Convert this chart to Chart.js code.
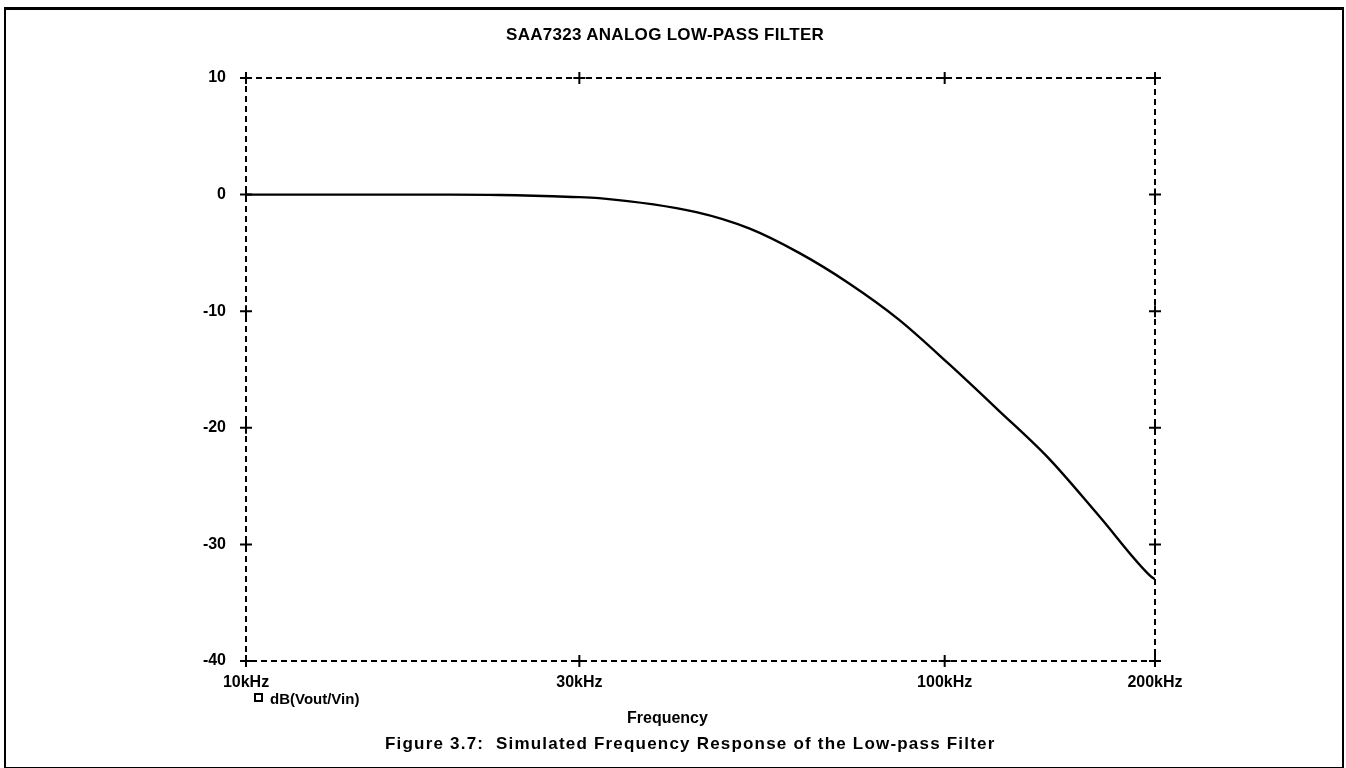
<!DOCTYPE html>
<html>
<head>
<meta charset="utf-8">
<script src="https://cdn.jsdelivr.net/npm/chart.js@4.4.0/dist/chart.umd.min.js"></script>
<style>
  body { margin: 0; background: #fff; font-family: "Liberation Sans", Arial, sans-serif; }
  #wrap { position: relative; width: 1346px; height: 768px; overflow: hidden; }
  #frame { position: absolute; left: 4px; top: 7px; width: 1336px; height: 757px;
           border: 2px solid #000; border-top-width: 3px; }
  canvas { position: absolute; left: 0; top: 0; }
  .txt { position: absolute; color: #000; font-weight: bold; white-space: nowrap; line-height: 1; }
  #title { left: 506px; top: 26px; font-size: 17px; letter-spacing: 0.3px; }
  #legend { left: 254px; top: 691px; font-size: 15px; }
  #legend span { display: inline-block; width: 5px; height: 5px; border: 2px solid #000; margin-right: 7px; vertical-align: 2px; }
  #xlabel { left: 627px; top: 710px; font-size: 16px; }
  #caption { left: 385px; top: 735px; font-size: 17px; letter-spacing: 1.2px; }
</style>
</head>
<body>
<div id="wrap">
  <div id="frame"></div>
  <canvas id="c" width="1346" height="768"></canvas>
  <div class="txt" id="title">SAA7323 ANALOG LOW-PASS FILTER</div>
  <div class="txt" id="legend"><span></span>dB(Vout/Vin)</div>
  <div class="txt" id="xlabel">Frequency</div>
  <div class="txt" id="caption">Figure 3.7:&nbsp; Simulated Frequency Response of the Low-pass Filter</div>
</div>
<script>
// frequency in Hz, gain in dB
const freqHz = [10000, 19600, 23100, 29300, 32000, 44100, 52500, 61900, 72900, 85900, 101300, 119400, 140800, 166000, 196900, 200000];
const gainDb = [0, 0, -0.03, -0.2, -0.3, -1.5, -2.9, -5.0, -7.6, -10.7, -14.5, -18.5, -22.6, -27.5, -32.7, -33.0];

const xTickValues = [10000, 30000, 100000, 200000];
const xTickLabels = ['10kHz', '30kHz', '100kHz', '200kHz'];
const yTickValues = [10, 0, -10, -20, -30, -40];

const points = freqHz.map((f, i) => ({ x: f, y: gainDb[i] }));

const tickFont = { family: 'Liberation Sans', size: 16, weight: 'bold' };

function xTicks(scale) { scale.ticks = xTickValues.map(v => ({ value: v })); }
function yTicks(scale) { scale.ticks = yTickValues.map(v => ({ value: v })); }

// dashed box round the plot and "+" tick marks crossing it
const plotFrame = {
  id: 'plotFrame',
  beforeDatasetsDraw(chart) {
    const ctx = chart.ctx;
    const a = chart.chartArea;
    ctx.save();
    ctx.strokeStyle = '#000';
    ctx.lineWidth = 2;
    ctx.setLineDash([6, 4]);
    ctx.strokeRect(a.left, a.top, a.right - a.left, a.bottom - a.top);
    ctx.restore();
  },
  afterDraw(chart) {
    const ctx = chart.ctx;
    const a = chart.chartArea;
    const len = 6;
    ctx.save();
    ctx.strokeStyle = '#000';
    ctx.lineWidth = 2;
    ctx.beginPath();
    const sx = chart.scales.x, sy = chart.scales.y;
    xTickValues.forEach(v => {
      const px = sx.getPixelForValue(v);
      [a.top, a.bottom].forEach(py => {
        ctx.moveTo(px, py - len); ctx.lineTo(px, py + len);
        ctx.moveTo(px - len, py); ctx.lineTo(px + len, py);
      });
    });
    yTickValues.forEach(v => {
      const py = sy.getPixelForValue(v);
      [a.left, a.right].forEach(px => {
        ctx.moveTo(px - len, py); ctx.lineTo(px + len, py);
        ctx.moveTo(px, py - len); ctx.lineTo(px, py + len);
      });
    });
    ctx.stroke();
    ctx.restore();
  }
};

const noGrid = { display: false };
const noBorder = { display: false };

new Chart(document.getElementById('c').getContext('2d'), {
  type: 'line',
  data: {
    datasets: [{
      label: 'dB(Vout/Vin)',
      data: points,
      borderColor: '#000',
      borderWidth: 2.4,
      pointRadius: 0,
      cubicInterpolationMode: 'monotone',
      fill: false
    }]
  },
  options: {
    responsive: false,
    animation: false,
    layout: { padding: { left: 186, right: 190, top: 77, bottom: 57 } },
    plugins: { legend: { display: false }, tooltip: { enabled: false }, title: { display: false } },
    scales: {
      x: {
        type: 'logarithmic', position: 'bottom', min: 10000, max: 200000,
        afterBuildTicks: xTicks,
        afterFit: s => { s.height = 50; },
        clip: false,
        border: noBorder, grid: noGrid,
        ticks: { color: '#000', font: tickFont, padding: 4, maxRotation: 0, autoSkip: false,
                 callback: v => xTickLabels[xTickValues.indexOf(v)] }
      },
      x2: {
        type: 'logarithmic', position: 'top', min: 10000, max: 200000,
        afterFit: s => { s.height = 1; },
        border: noBorder, grid: noGrid,
        ticks: { display: false }
      },
      y: {
        position: 'left', min: -40, max: 10,
        afterBuildTicks: yTicks,
        afterFit: s => { s.width = 60; },
        clip: false,
        border: noBorder, grid: noGrid,
        ticks: { color: '#000', font: tickFont, padding: 12 }
      },
      y2: {
        position: 'right', min: -40, max: 10,
        afterFit: s => { s.width = 1; },
        border: noBorder, grid: noGrid,
        ticks: { display: false }
      }
    }
  },
  plugins: [plotFrame]
});
</script>
</body>
</html>
